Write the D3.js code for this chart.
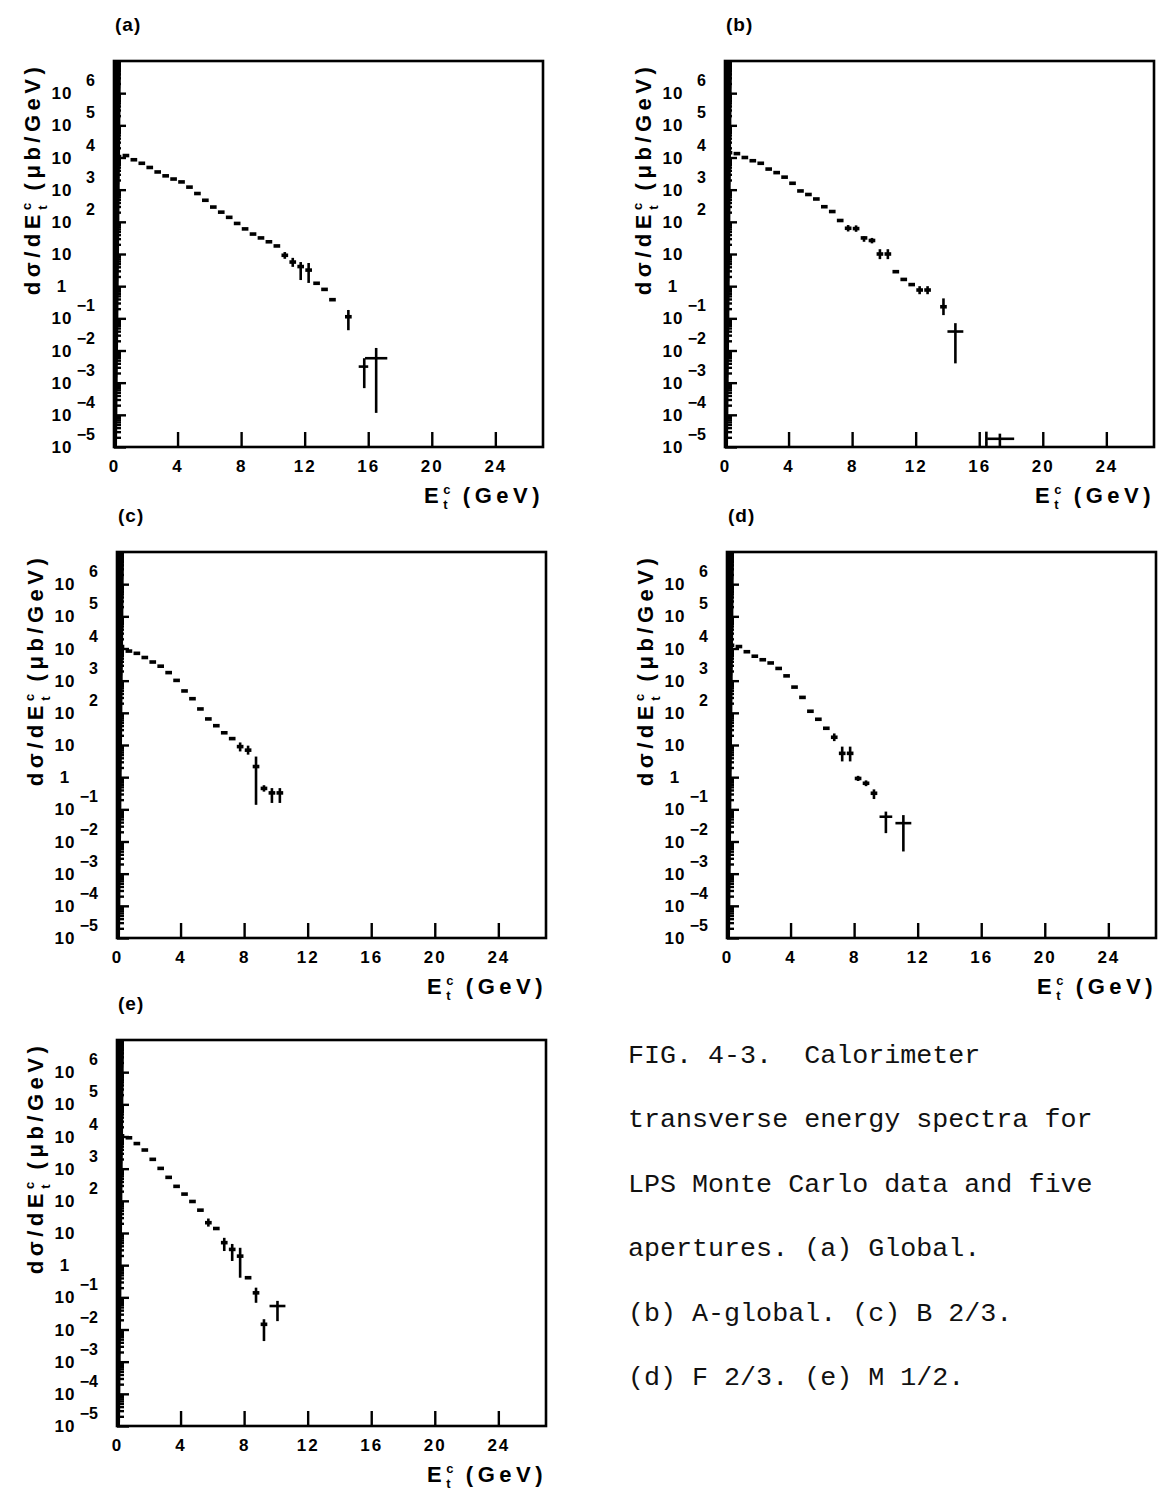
<!DOCTYPE html>
<html>
<head>
<meta charset="utf-8">
<script src="https://cdn.jsdelivr.net/npm/d3@7"></script>
<style>
  body { margin: 0; background: #fff; }
  svg { display: block; }
  .lab { font-family: "Liberation Sans", Arial, sans-serif; font-weight: bold; fill: #000; }
  .cap { font-family: "Liberation Mono", "DejaVu Sans Mono", monospace; fill: #111; }
</style>
</head>
<body>
<svg id="fig" width="1158" height="1493"></svg>
<script>
// ---- axis definitions ----
const xTicks = [0, 4, 8, 12, 16, 20, 24];
const yExponents = [-5, -4, -3, -2, -1, 0, 1, 2, 3, 4, 5, 6];
const xDomain = [0, 27];
const yDomain = [1e-5, 1e7];

// ---- spectra: bin centre E (GeV) and dσ/dE (μb/GeV) ----
// (a) Global
const eA = [0.25,0.75,1.25,1.75,2.25,2.75,3.25,3.75,4.25,4.75,5.25,5.75,6.25,6.75,7.25,7.75,8.25,8.75,9.25,9.75,10.25,10.75,11.25,11.75,12.25,12.75,13.25,13.75,14.75,15.75,16.5];
const vA = [1.07e4,1.15e4,8.51e3,6.61e3,4.90e3,3.55e3,2.69e3,2.14e3,1.74e3,1.20e3,759,468,288,200,138,89.1,60.3,41.7,31.6,24.0,17.8,9.12,5.62,4.07,3.16,1.23,0.794,0.380,0.112,3.16e-3,5.75e-3];
const errA = [[10.75,7.08,11.5],[11.25,3.98,7.59],[11.75,1.55,5.62],[12.25,1.26,5.25],[14.75,0.0427,0.182],[15.75,6.76e-4,5.75e-3],[16.5,1.15e-4,1.20e-2]];
const wideA = {15.75:[15.4,16.0], 16.5:[15.8,17.2]};

// (b) A-global
const eB = [0.25,0.75,1.25,1.75,2.25,2.75,3.25,3.75,4.25,4.75,5.25,5.75,6.25,6.75,7.25,7.75,8.25,8.75,9.25,9.75,10.25,10.75,11.25,11.75,12.25,12.75,13.75,14.5,16.45,17.3];
const vB = [1.41e4,1.32e4,1.0e4,7.94e3,6.61e3,4.37e3,3.39e3,2.45e3,1.58e3,912,708,513,295,209,110,63.1,61.7,31.6,26.3,10.0,10.0,2.82,1.62,1.12,0.759,0.759,0.229,0.0389,1.3e-5,1.8e-5];
const errB = [[7.75,50.1,79.4],[8.25,49.0,77.6],[8.75,24.0,35.5],[9.25,21.4,31.6],[9.75,6.92,14.1],[10.25,6.92,14.1],[12.25,0.562,1.0],[12.75,0.562,1.0],[13.75,0.126,0.417],[14.5,3.98e-3,0.0708],[16.45,5e-6,3e-5],[17.3,1e-5,2.6e-5]];
const wideB = {14.5:[14.0,15.0], 16.45:[16.4,16.5], 17.3:[16.5,18.2]};

// (c) B 2/3
const eC = [0.25,0.75,1.25,1.75,2.25,2.75,3.25,3.75,4.25,4.75,5.25,5.75,6.25,6.75,7.25,7.75,8.25,8.75,9.25,9.75,10.25];
const vC = [1.15e4,8.32e3,7.08e3,5.25e3,3.80e3,2.82e3,1.78e3,1.02e3,479,275,132,64.6,39.8,24.0,15.8,8.91,6.92,2.14,0.447,0.324,0.324];
const errC = [[7.75,6.31,12.0],[8.25,5.01,9.55],[8.75,0.138,4.37],[9.25,0.355,0.562],[9.75,0.158,0.457],[10.25,0.158,0.457]];
const wideC = {};

// (d) F 2/3
const eD = [0.25,0.75,1.25,1.75,2.25,2.75,3.25,3.75,4.25,4.75,5.25,5.75,6.25,6.75,7.25,7.75,8.25,8.75,9.25,10.0,11.1];
const vD = [1.26e4,1.15e4,7.94e3,5.75e3,4.47e3,3.55e3,2.40e3,1.41e3,631,302,112,63.1,33.1,17.4,5.50,5.50,0.912,0.646,0.316,0.0589,0.0372];
const errD = [[6.75,13.2,22.9],[7.25,3.09,8.91],[7.75,3.09,8.91],[8.25,0.759,1.10],[8.75,0.525,0.794],[9.25,0.209,0.417],[10.0,0.0182,0.0851],[11.1,4.9e-3,0.0661]];
const wideD = {10.0:[9.6,10.4], 11.1:[10.6,11.6]};

// (e) M 1/2
const eE = [0.25,0.75,1.25,1.75,2.25,2.75,3.25,3.75,4.25,4.75,5.25,5.75,6.25,6.75,7.25,7.75,8.25,8.75,9.25,10.1];
const vE = [1.05e4,9.12e3,6.03e3,3.80e3,1.95e3,1.02e3,537,282,162,95.5,51.3,20.9,13.8,5.01,3.09,1.91,0.407,0.138,0.0145,0.0537];
const errE = [[5.75,15.8,28.2],[6.75,2.75,7.08],[7.25,1.35,4.57],[7.75,0.407,3.47],[8.75,0.0676,0.2],[9.25,4.37e-3,0.0209],[10.1,0.0182,0.0776]];
const wideE = {10.1:[9.6,10.6]};

const panelLabels = ["(a)", "(b)", "(c)", "(d)", "(e)"];

const captionLines = [
  "FIG. 4-3.  Calorimeter",
  "transverse energy spectra for",
  "LPS Monte Carlo data and five",
  "apertures. (a) Global.",
  "(b) A-global. (c) B 2/3.",
  "(d) F 2/3. (e) M 1/2."
];

// ---- layout ----
const W = 429, H = 386;
const frames = [
  {left: 114, top: 61},
  {left: 725, top: 61},
  {left: 117, top: 552},
  {left: 727, top: 552},
  {left: 117, top: 1040}
];
const series = [
  {e: eA, v: vA, err: errA, wide: wideA},
  {e: eB, v: vB, err: errB, wide: wideB},
  {e: eC, v: vC, err: errC, wide: wideC},
  {e: eD, v: vD, err: errD, wide: wideD},
  {e: eE, v: vE, err: errE, wide: wideE}
];

const svg = d3.select("#fig");

series.forEach((s, i) => {
  const f = frames[i];
  const g = svg.append("g").attr("transform", `translate(${f.left},${f.top})`);
  const x = d3.scaleLinear().domain(xDomain).range([0, W]);
  const y = d3.scaleLog().domain(yDomain).range([H, 0]);

  // clip region for the data marks
  const clipId = "clip" + i;
  g.append("clipPath").attr("id", clipId)
    .append("rect").attr("x", 0).attr("y", 0).attr("width", W).attr("height", H);

  // left axis: dense minor and major log ticks pointing inward
  const minors = [];
  for (let k = -5; k <= 6; k++) for (let m = 2; m <= 9; m++) minors.push(m * Math.pow(10, k));
  const majors = yExponents.map(k => Math.pow(10, k));
  const styleAxis = sel => {
    sel.select(".domain").remove();
    sel.selectAll(".tick line").attr("stroke", "#000").attr("stroke-width", 2.4);
    sel.selectAll(".tick text").remove();
  };
  g.append("g").call(d3.axisRight(y).tickValues(minors).tickSize(7).tickFormat(() => "")).call(styleAxis);
  g.append("g").call(d3.axisRight(y).tickValues(majors).tickSize(12).tickFormat(() => "")).call(styleAxis);
  // the inked tick band, heavier towards the top
  g.append("path")
    .attr("d", `M0,0 L7,0 L3,${H} L0,${H} Z`)
    .attr("fill", "#000");

  // bottom axis: ticks pointing up, labels below
  const xa = g.append("g").attr("transform", `translate(0,${H})`)
    .call(d3.axisBottom(x).tickValues(xTicks).tickSize(-15).tickPadding(13).tickFormat(d3.format("d")));
  xa.select(".domain").remove();
  xa.selectAll(".tick line").attr("stroke", "#000").attr("stroke-width", 2.4);
  xa.selectAll(".tick text").attr("class", "lab").attr("font-size", 17)
    .attr("letter-spacing", 2).attr("fill", "#000");

  // y tick labels: 10 with exponent
  yExponents.forEach(k => {
    const yy = y(Math.pow(10, k));
    const base = k === 0 ? "1" : "10";
    g.append("text").attr("class", "lab").attr("x", -52).attr("y", yy + 6)
      .attr("text-anchor", "middle").attr("font-size", 17).attr("letter-spacing", 1).text(base);
    if (k !== 0 && k !== 1) {
      const ex = String(k).replace("-", "−");
      g.append("text").attr("class", "lab").attr("x", -19).attr("y", yy - 7)
        .attr("text-anchor", "end").attr("font-size", 16).text(ex);
    }
  });

  // frame
  g.append("rect").attr("x", 0).attr("y", 0).attr("width", W).attr("height", H)
    .attr("fill", "none").attr("stroke", "#000").attr("stroke-width", 2.6);

  // data
  const marks = g.append("g").attr("clip-path", `url(#${clipId})`);
  const pts = s.e.map((e, j) => ({e, v: s.v[j], bin: s.wide[e]}));
  marks.selectAll("line.bin").data(pts).join("line")
    .attr("class", "bin")
    .attr("x1", d => d.bin ? x(d.bin[0]) : x(d.e - 0.21))
    .attr("x2", d => d.bin ? x(d.bin[1]) : x(d.e + 0.21))
    .attr("y1", d => y(d.v)).attr("y2", d => y(d.v))
    .attr("stroke", "#000").attr("stroke-width", d => d.bin ? 2.6 : 3.6);
  marks.selectAll("line.err").data(s.err).join("line")
    .attr("class", "err")
    .attr("x1", d => x(d[0])).attr("x2", d => x(d[0]))
    .attr("y1", d => y(d[1])).attr("y2", d => y(d[2]))
    .attr("stroke", "#000").attr("stroke-width", 2.6);

  // panel tag
  g.append("text").attr("class", "lab").attr("x", 1).attr("y", -30)
    .attr("font-size", 19).attr("letter-spacing", 1).text(panelLabels[i]);

  // y title
  const yt = g.append("text").attr("class", "lab").attr("font-size", 22).attr("letter-spacing", 4.5)
    .attr("text-anchor", "middle")
    .attr("transform", `translate(-74,118) rotate(-90)`);
  yt.append("tspan").text("dσ/dE");
  yt.append("tspan").attr("dy", -9).attr("font-size", 13).attr("letter-spacing", 0).text("c");
  yt.append("tspan").attr("dx", -7).attr("dy", 16).attr("font-size", 13).text("t");
  yt.append("tspan").attr("dy", -7).text(" (μb/GeV)");

  // x title
  const xt = g.append("text").attr("class", "lab").attr("font-size", 22).attr("letter-spacing", 4.5)
    .attr("text-anchor", "end").attr("x", W + 1).attr("y", H + 56);
  xt.append("tspan").text("E");
  xt.append("tspan").attr("dy", -9).attr("font-size", 13).attr("letter-spacing", 0).text("c");
  xt.append("tspan").attr("dx", -7).attr("dy", 15).attr("font-size", 13).text("t");
  xt.append("tspan").attr("dy", -6).text(" (GeV)");
});

// caption
svg.append("g").selectAll("text").data(captionLines).join("text")
  .attr("class", "cap")
  .attr("x", 628)
  .attr("y", (d, i) => 1063 + i * 64.4)
  .attr("font-size", 26.7)
  .attr("xml:space", "preserve")
  .style("white-space", "pre")
  .text(d => d);
</script>
</body>
</html>
